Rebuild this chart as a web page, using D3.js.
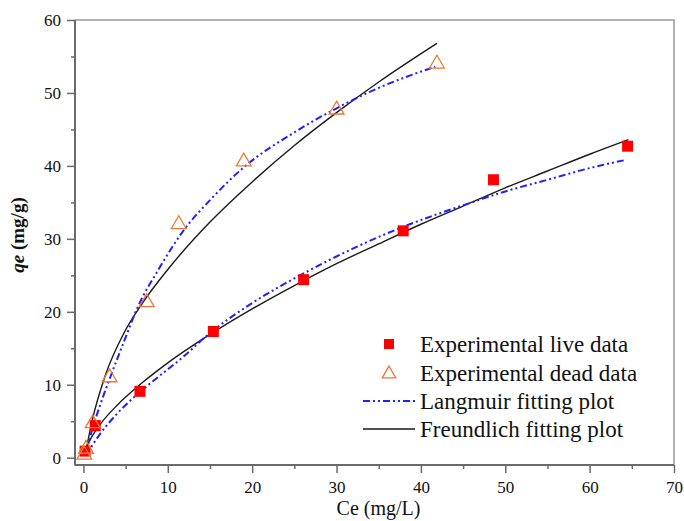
<!DOCTYPE html>
<html>
<head>
<meta charset="utf-8">
<script src="https://cdnjs.cloudflare.com/ajax/libs/d3/7.8.5/d3.min.js"></script>
<style>
body { margin: 0; background: #fff; }
svg text { font-family: "Liberation Serif", "Times New Roman", serif; fill: #111; }
</style>
</head>
<body>
<div id="chart"></div>
<script>

// experimental points (Ce, qe)
var liveCe = [0.2, 1.4, 6.7, 15.4, 26.1, 37.9, 48.6, 64.5];
var liveQe = [0.9, 4.4, 9.1, 17.3, 24.4, 31.1, 38.1, 42.7];
var deadCe = [0.1, 0.3, 1.1, 3.1, 7.5, 11.3, 19.0, 30.0, 41.9];
var deadQe = [0.4, 1.2, 4.7, 11.0, 21.3, 32.0, 40.6, 47.7, 54.0];

// fitted curves
var langLiveCe = [0.3, 2, 3.8, 6.1, 8.9, 11.7, 14.8, 20, 26, 32, 38, 45, 50, 55, 60, 64.2];
var langLiveQe = [0.3, 3.3, 5.8, 8.4, 11.1, 13.7, 16.9, 21.2, 25.2, 28.7, 31.7, 34.6, 36.5, 38.1, 39.7, 40.8];
var freLiveCe = [0.3, 1, 2, 4, 7, 10, 15, 20, 25, 30, 35, 40, 45, 50, 55, 60, 64.6];
var freLiveQe = [1.3, 2.9, 4.6, 7.2, 10.3, 13.0, 16.9, 20.4, 23.6, 26.6, 29.3, 32.0, 34.5, 37.0, 39.3, 41.6, 43.6];
var langDeadCe = [0.2, 1, 2, 3.2, 5, 6.3, 9, 11.9, 15, 19, 25, 30, 35, 41.7];
var langDeadQe = [0.4, 3.7, 7.3, 11.1, 16.5, 20.3, 26.0, 31.2, 35.3, 39.8, 44.6, 47.9, 50.7, 53.6];
var freDeadCe = [0.2, 1.0, 2.6, 4.9, 7, 10, 15, 20, 25, 30, 35, 41.9];
var freDeadQe = [0.3, 4.9, 11.3, 17.3, 21.2, 25.8, 32.3, 37.8, 42.8, 47.3, 51.5, 56.8];

var xTicks = [0, 10, 20, 30, 40, 50, 60, 70];
var yTicks = [0, 10, 20, 30, 40, 50, 60];
var legendLabels = ["Experimental live data", "Experimental dead data", "Langmuir fitting plot", "Freundlich fitting plot"];

var W = 684, H = 521;
var pLeft = 75, pRight = 674, pTop = 20, pBottom = 465;

var svg = d3.select("#chart").append("svg")
  .attr("width", W)
  .attr("height", H);

var x = d3.scaleLinear().domain([-1, 70]).range([pLeft, pRight]);
var y = d3.scaleLinear().domain([-1, 60]).range([pBottom, pTop]);

var axisColor = "#6a6a6a";

// frame
svg.append("rect")
  .attr("x", pLeft).attr("y", pTop)
  .attr("width", pRight - pLeft).attr("height", pBottom - pTop)
  .attr("fill", "none").attr("stroke", "#999").attr("stroke-width", 1.5);

// minor ticks
var xMinor = d3.range(5, 70, 10);
var yMinor = d3.range(5, 60, 10);

var gx = svg.append("g").attr("transform", "translate(0," + pBottom + ")");
gx.append("g").call(d3.axisBottom(x).tickValues(xMinor).tickSize(4).tickFormat(""));
gx.append("g").call(d3.axisBottom(x).tickValues(xTicks).tickSize(8).tickPadding(6).tickFormat(d3.format("d")));
gx.selectAll(".domain").remove();
svg.append("line").attr("x1", pLeft).attr("x2", pRight).attr("y1", pBottom).attr("y2", pBottom)
  .attr("stroke", axisColor).attr("stroke-width", 2);

var gy = svg.append("g").attr("transform", "translate(" + pLeft + ",0)");
gy.append("g").call(d3.axisLeft(y).tickValues(yMinor).tickSize(4).tickFormat(""));
gy.append("g").call(d3.axisLeft(y).tickValues(yTicks).tickSize(8).tickPadding(6).tickFormat(d3.format("d")));
gy.selectAll(".domain").remove();
svg.append("line").attr("x1", pLeft).attr("x2", pLeft).attr("y1", pTop).attr("y2", pBottom)
  .attr("stroke", axisColor).attr("stroke-width", 2);

svg.selectAll(".tick line").attr("stroke", axisColor).attr("stroke-width", 1.5);
svg.selectAll(".tick text").style("font-size", "17px").attr("fill", "#111")
  .style("font-family", "'Liberation Serif', serif");
gx.selectAll(".tick text").attr("dy", "0.85em");

// axis titles
svg.append("text")
  .attr("x", (pLeft + pRight) / 2 + 4).attr("y", 515)
  .attr("text-anchor", "middle")
  .style("font-size", "20px")
  .text("Ce (mg/L)");

var yt = svg.append("text")
  .attr("transform", "translate(24," + 235 + ") rotate(-90)")
  .attr("text-anchor", "middle")
  .style("font-size", "19px")
  .style("font-weight", "bold");
yt.append("tspan").style("font-style", "italic").text("qe");
yt.append("tspan").text(" (mg/g)");

// curves
var line = d3.line()
  .x(function(d) { return x(d[0]); })
  .y(function(d) { return y(d[1]); })
  .curve(d3.curveMonotoneX);

function pairs(a, b) { return a.map(function(v, i) { return [v, b[i]]; }); }

var langDash = "7,3,2,3,2,3";

svg.append("path").datum(pairs(freDeadCe, freDeadQe))
  .attr("d", line).attr("fill", "none").attr("stroke", "#1a1a1a").attr("stroke-width", 1.4);
svg.append("path").datum(pairs(freLiveCe, freLiveQe))
  .attr("d", line).attr("fill", "none").attr("stroke", "#1a1a1a").attr("stroke-width", 1.4);
svg.append("path").datum(pairs(langDeadCe, langDeadQe))
  .attr("d", line).attr("fill", "none").attr("stroke", "#1f1fff").attr("stroke-width", 2)
  .attr("stroke-dasharray", langDash);
svg.append("path").datum(pairs(langLiveCe, langLiveQe))
  .attr("d", line).attr("fill", "none").attr("stroke", "#1f1fff").attr("stroke-width", 2)
  .attr("stroke-dasharray", langDash);

// markers
var tri = d3.symbol().type(d3.symbolTriangle).size(95);
var sq = d3.symbol().type(d3.symbolSquare).size(121);

svg.selectAll(".live")
  .data(pairs(liveCe, liveQe))
  .enter().append("path")
    .attr("class", "live")
    .attr("d", sq)
    .attr("transform", function(d) { return "translate(" + x(d[0]) + "," + y(d[1]) + ")"; })
    .attr("fill", "#ff0000");

svg.selectAll(".dead")
  .data(pairs(deadCe, deadQe))
  .enter().append("path")
    .attr("class", "dead")
    .attr("d", tri)
    .attr("transform", function(d) { return "translate(" + x(d[0]) + "," + y(d[1]) + ")"; })
    .attr("fill", "none")
    .attr("stroke", "#ee7733")
    .attr("stroke-width", 1.3);

// legend
var lg = svg.append("g");
var rowsY = [344, 373, 401, 429];
var symX = 389, textX = 420;

lg.append("path").attr("d", d3.symbol().type(d3.symbolSquare).size(100))
  .attr("transform", "translate(" + symX + "," + rowsY[0] + ")").attr("fill", "#ff0000");
lg.append("path").attr("d", d3.symbol().type(d3.symbolTriangle).size(80))
  .attr("transform", "translate(" + symX + "," + (rowsY[1] + 1) + ")")
  .attr("fill", "none").attr("stroke", "#ee7733").attr("stroke-width", 1.3);
lg.append("line").attr("x1", 363).attr("x2", 415).attr("y1", rowsY[2]).attr("y2", rowsY[2])
  .attr("stroke", "#1f1fff").attr("stroke-width", 2).attr("stroke-dasharray", langDash);
lg.append("line").attr("x1", 363).attr("x2", 415).attr("y1", rowsY[3]).attr("y2", rowsY[3])
  .attr("stroke", "#1a1a1a").attr("stroke-width", 1.4);

lg.selectAll(".lt")
  .data(legendLabels)
  .enter().append("text")
    .attr("class", "lt")
    .attr("x", textX)
    .attr("y", function(d, i) { return rowsY[i]; })
    .attr("dy", "0.35em")
    .style("font-size", "23px")
    .text(function(d) { return d; });

</script>
</body>
</html>
